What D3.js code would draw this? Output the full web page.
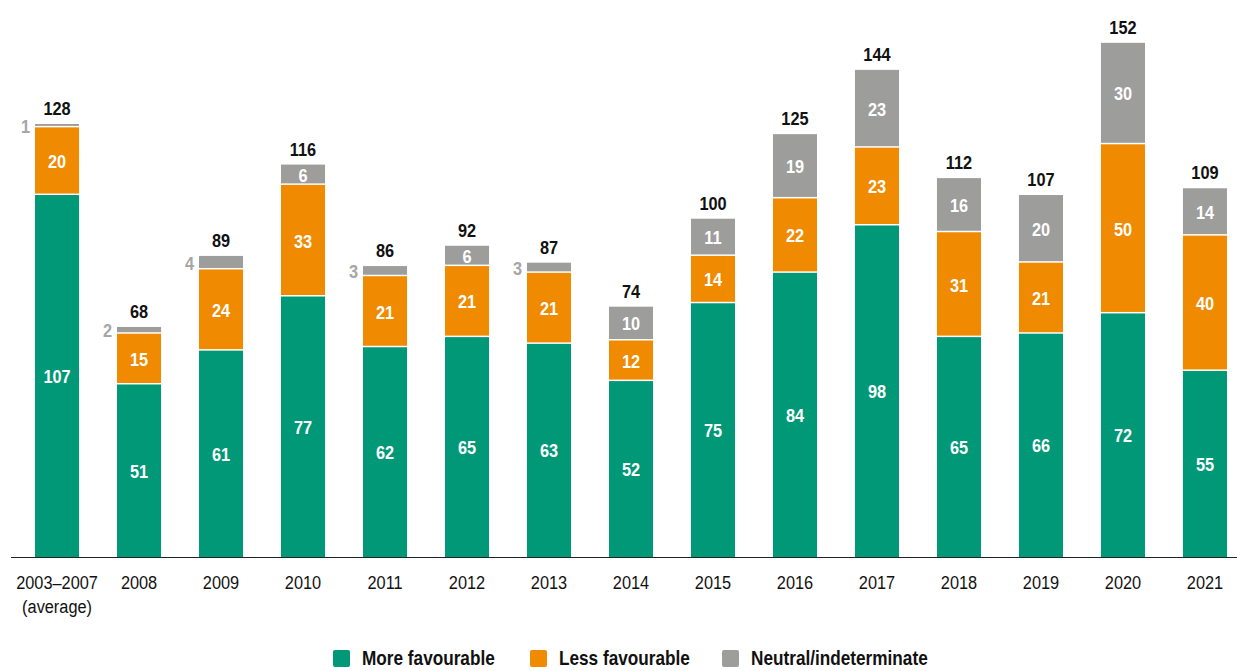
<!DOCTYPE html>
<html>
<head>
<meta charset="utf-8">
<script src="https://cdn.jsdelivr.net/npm/d3@7"></script>
<style>
  body { margin: 0; background: #fff; }
  svg text { font-family: "Liberation Sans", Arial, sans-serif; }
</style>
</head>
<body>
<script>
const categories = ["2003\u20132007", "2008", "2009", "2010", "2011", "2012", "2013", "2014", "2015", "2016", "2017", "2018", "2019", "2020", "2021"]
const moreFav = [107, 51, 61, 77, 62, 65, 63, 52, 75, 84, 98, 65, 66, 72, 55]
const lessFav = [20, 15, 24, 33, 21, 21, 21, 12, 14, 22, 23, 31, 21, 50, 40]
const neutral = [1, 2, 4, 6, 3, 6, 3, 10, 11, 19, 23, 16, 20, 30, 14]
const seriesNames = ["More favourable", "Less favourable", "Neutral/indeterminate"]
const colors = ["#009877", "#f08a00", "#9d9d9c"]

const width = 1237, height = 671
const svg = d3.select("body").append("svg").attr("width", width).attr("height", height)

const x = d3.scaleBand().domain(categories).range([16, 1246]).paddingInner(0.463).paddingOuter(0.232)
const y = d3.scaleLinear().domain([0, 128]).range([557, 124])

const rows = categories.map((c, i) => ({cat: c, more: moreFav[i], less: lessFav[i], neutral: neutral[i]}))
const stack = d3.stack().keys(["more", "less", "neutral"])(rows)

// no narrow font installed, so squeeze text horizontally
const squeeze = 0.86
const at = (fx, fy) => (d, i) => `translate(${fx(d, i)},${fy(d, i)}) scale(${squeeze},1)`

const gap = 1.5
stack.forEach((layer, li) => {
  svg.append("g").selectAll("rect").data(layer).join("rect")
    .attr("x", d => x(d.data.cat))
    .attr("width", x.bandwidth())
    .attr("y", d => y(d[1]))
    .attr("height", d => Math.max(1.5, y(d[0]) - y(d[1]) - (li > 0 ? gap : 0)))
    .attr("fill", colors[li])

  // segment labels, small ones go to the left in grey
  svg.append("g").selectAll("text").data(layer).join("text")
    .attr("transform", at(
      d => (d[1] - d[0]) < 5 ? x(d.data.cat) - 5 : x(d.data.cat) + x.bandwidth() / 2,
      d => (y(d[0]) + y(d[1])) / 2))
    .attr("dy", "0.36em")
    .attr("text-anchor", d => (d[1] - d[0]) < 5 ? "end" : "middle")
    .attr("fill", d => (d[1] - d[0]) < 5 ? "#a6a6a6" : "#fff")
    .attr("font-weight", "bold")
    .attr("font-size", 19)
    .text(d => d[1] - d[0])
})

// totals
svg.append("g").selectAll("text").data(rows).join("text")
  .attr("transform", at(d => x(d.cat) + x.bandwidth() / 2, d => y(d.more + d.less + d.neutral) - 9))
  .attr("text-anchor", "middle")
  .attr("font-weight", "bold")
  .attr("font-size", 19)
  .attr("fill", "#111")
  .text(d => d.more + d.less + d.neutral)

// baseline
svg.append("line").attr("x1", 11).attr("x2", width).attr("y1", 557.5).attr("y2", 557.5)
  .attr("stroke", "#222").attr("stroke-width", 1.2)

// axis labels
svg.append("g").selectAll("text").data(categories).join("text")
  .attr("transform", at(d => x(d) + x.bandwidth() / 2, () => 589))
  .attr("text-anchor", "middle")
  .attr("font-size", 19)
  .attr("fill", "#111")
  .text(d => d)
svg.append("text")
  .attr("transform", `translate(${x(categories[0]) + x.bandwidth() / 2},613) scale(${squeeze},1)`)
  .attr("text-anchor", "middle").attr("font-size", 19).attr("fill", "#111").text("(average)")

// legend
const legendX = [333, 530, 722]
const lg = svg.append("g").selectAll("g").data(seriesNames).join("g")
  .attr("transform", (d, i) => `translate(${legendX[i]},650)`)
lg.append("rect").attr("width", 17).attr("height", 17).attr("rx", 2).attr("fill", (d, i) => colors[i])
lg.append("text").attr("transform", `translate(29,15) scale(${squeeze},1)`)
  .attr("font-size", 20).attr("font-weight", "bold")
  .attr("fill", "#111").text(d => d)
</script>
</body>
</html>
